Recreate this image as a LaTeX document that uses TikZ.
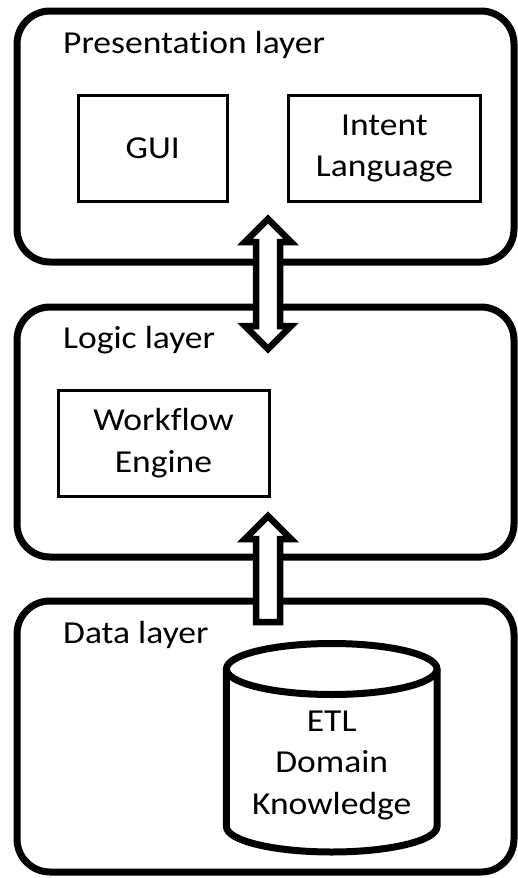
\documentclass[tikz,border=0pt]{standalone}
\usepackage{fontspec}
\setmainfont{Carlito}[FakeStretch=1.11, Ligatures=NoCommon]

\begin{document}
\begin{tikzpicture}[x=1pt, y=-1pt]
  \tikzstyle{every node}=[font=\fontsize{32pt}{41.5pt}\selectfont, inner sep=0pt]
  \tikzstyle{layer}=[draw, line width=7pt, rounded corners=33pt, minimum width=497pt]
  \tikzstyle{title}=[anchor=base west]
  \tikzstyle{block}=[draw, line width=3pt, align=center, minimum height=105.5pt]
  \tikzstyle{store}=[draw, line width=7pt]
  \tikzstyle{fat}=[draw, fill=white, line width=6.5pt, miter limit=10]
  \useasboundingbox (0,0) rectangle (517,878);

  % the three layers
  \path (265.5,136.5) node[layer, minimum height=251pt] (pres) {};
  \path (265.5,432) node[layer, minimum height=250pt] (logic) {};
  \path (265.5,736.5) node[layer, minimum height=271pt] (data) {};

  \path (63,53.3) node[title] (pres-t) {Presentation layer};
  \path (63,348.3) node[title] (logic-t) {Logic layer};
  \path (63,643.3) node[title] (data-t) {Data layer};

  % inner parts
  \path (152.75,148.25) node[block, minimum width=149.5pt] (gui) {GUI};
  \path (384.5,148.25) node[block, minimum width=192pt] (intent) {Intent\\Language};
  \path (163.5,443) node[block, minimum width=211pt, minimum height=106pt] (wfe) {Workflow\\Engine};

  % the store as a drum
  \coordinate (etl-top) at (331.7,669);
  \draw[store] (etl-top) ellipse [x radius=105.3, y radius=25.5];
  \draw[store] (etl-top) ++(-105.3,0) -- ++(0,157.5)
    arc [start angle=180, end angle=0, x radius=105.3, y radius=25.5] -- ++(0,-157.5);
  \path (331.7,765) node[align=center] (etl) {ETL\\Domain\\Knowledge};

  % arrows between layers
  \coordinate (pl-up) at (268,219);
  \coordinate (pl-down) at (268,349);
  \coordinate (ld-up) at (268,516);

  \draw[fat] (pl-up) -- ++(23,23) -- ++(-11,0) -- ++(0,84) -- ++(11,0) -- (pl-down)
    -- ++(-23,-23) -- ++(11,0) -- ++(0,-84) -- ++(-11,0) -- cycle;
  \draw[fat] (ld-up) -- ++(23,23) -- ++(-11,0) -- ++(0,83) -- ++(-24,0)
    -- ++(0,-83) -- ++(-11,0) -- cycle;
\end{tikzpicture}
\end{document}
